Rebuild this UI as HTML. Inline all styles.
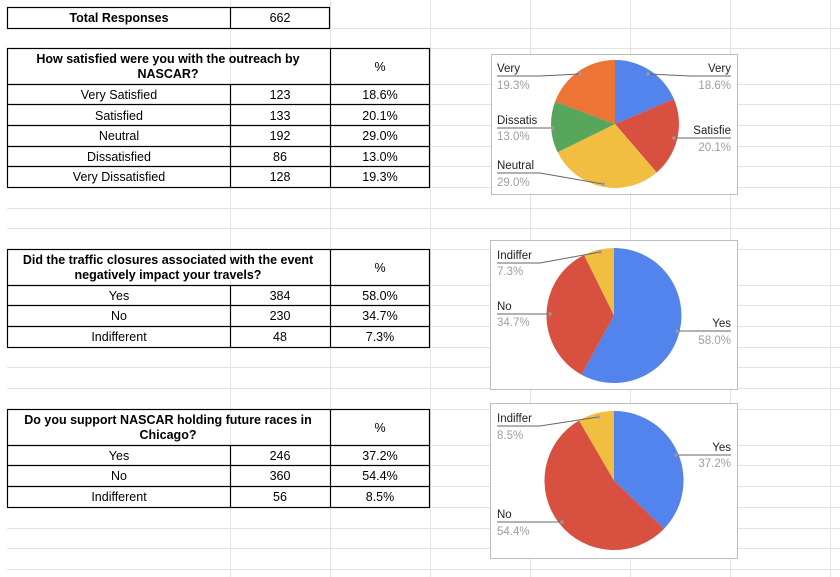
<!DOCTYPE html>
<html><head><meta charset="utf-8"><style>
html,body{margin:0;padding:0;background:#fff;}
svg{display:block;font-family:"Liberation Sans",Arial,sans-serif;}
.t{font-size:12.5px;fill:#000;}
.b{font-weight:bold;}
.lb{font-size:11.5px;fill:#222;}
.pc{font-size:11.5px;fill:#9e9e9e;}
.ln{stroke:#666;stroke-width:1;fill:none;}
.dot{fill:#999;}
</style></head><body>
<svg width="840" height="577" viewBox="0 0 840 577" xmlns="http://www.w3.org/2000/svg">
<g stroke="#e2e2e2" stroke-width="1">
<line x1="230.5" y1="0" x2="230.5" y2="577"/><line x1="330.5" y1="0" x2="330.5" y2="577"/>
<line x1="430.5" y1="0" x2="430.5" y2="577"/><line x1="530.5" y1="0" x2="530.5" y2="577"/>
<line x1="630.5" y1="0" x2="630.5" y2="577"/><line x1="730.5" y1="0" x2="730.5" y2="577"/>
<line x1="830.5" y1="0" x2="830.5" y2="577"/>
<line x1="0" y1="28.5" x2="840" y2="28.5"/><line x1="0" y1="48.5" x2="840" y2="48.5"/>
<line x1="0" y1="84.5" x2="840" y2="84.5"/><line x1="0" y1="104.5" x2="840" y2="104.5"/>
<line x1="0" y1="125.5" x2="840" y2="125.5"/><line x1="0" y1="146.5" x2="840" y2="146.5"/>
<line x1="0" y1="166.5" x2="840" y2="166.5"/><line x1="0" y1="187.5" x2="840" y2="187.5"/>
<line x1="0" y1="208.5" x2="840" y2="208.5"/><line x1="0" y1="228.5" x2="840" y2="228.5"/>
<line x1="0" y1="249.5" x2="840" y2="249.5"/><line x1="0" y1="285.5" x2="840" y2="285.5"/>
<line x1="0" y1="305.5" x2="840" y2="305.5"/><line x1="0" y1="326.5" x2="840" y2="326.5"/>
<line x1="0" y1="347.5" x2="840" y2="347.5"/><line x1="0" y1="367.5" x2="840" y2="367.5"/>
<line x1="0" y1="388.5" x2="840" y2="388.5"/><line x1="0" y1="409.5" x2="840" y2="409.5"/>
<line x1="0" y1="445.5" x2="840" y2="445.5"/><line x1="0" y1="465.5" x2="840" y2="465.5"/>
<line x1="0" y1="486.5" x2="840" y2="486.5"/><line x1="0" y1="507.5" x2="840" y2="507.5"/>
<line x1="0" y1="528.5" x2="840" y2="528.5"/><line x1="0" y1="548.5" x2="840" y2="548.5"/>
<line x1="0" y1="569.5" x2="840" y2="569.5"/>
</g>
<rect x="0" y="0" width="7" height="577" fill="#fff"/>
<g stroke="#000" stroke-width="1.2" fill="none">
<rect x="7.5" y="7.5" width="322" height="21"/><line x1="230.5" y1="7.5" x2="230.5" y2="28.5"/>
<rect x="7.5" y="48.5" width="422" height="139"/>
<line x1="330.5" y1="48.5" x2="330.5" y2="187.5"/><line x1="230.5" y1="84.5" x2="230.5" y2="187.5"/>
<line x1="7.5" y1="84.5" x2="429.5" y2="84.5"/><line x1="7.5" y1="104.5" x2="429.5" y2="104.5"/>
<line x1="7.5" y1="125.5" x2="429.5" y2="125.5"/><line x1="7.5" y1="146.5" x2="429.5" y2="146.5"/>
<line x1="7.5" y1="166.5" x2="429.5" y2="166.5"/>
<rect x="7.5" y="249.5" width="422" height="98"/>
<line x1="330.5" y1="249.5" x2="330.5" y2="347.5"/><line x1="230.5" y1="285.5" x2="230.5" y2="347.5"/>
<line x1="7.5" y1="285.5" x2="429.5" y2="285.5"/><line x1="7.5" y1="305.5" x2="429.5" y2="305.5"/>
<line x1="7.5" y1="326.5" x2="429.5" y2="326.5"/>
<rect x="7.5" y="409.5" width="422" height="98"/>
<line x1="330.5" y1="409.5" x2="330.5" y2="507.5"/><line x1="230.5" y1="445.5" x2="230.5" y2="507.5"/>
<line x1="7.5" y1="445.5" x2="429.5" y2="445.5"/><line x1="7.5" y1="465.5" x2="429.5" y2="465.5"/>
<line x1="7.5" y1="486.5" x2="429.5" y2="486.5"/>
</g>
<g class="t" text-anchor="middle">
<text x="119" y="22" class="b">Total Responses</text><text x="280" y="22">662</text>
<text x="168" y="63" class="b">How satisfied were you with the outreach by</text>
<text x="168" y="78" class="b">NASCAR?</text><text x="380" y="71">%</text>
<text x="119" y="99">Very Satisfied</text><text x="280" y="99">123</text><text x="380" y="99">18.6%</text>
<text x="119" y="120">Satisfied</text><text x="280" y="120">133</text><text x="380" y="120">20.1%</text>
<text x="119" y="140">Neutral</text><text x="280" y="140">192</text><text x="380" y="140">29.0%</text>
<text x="119" y="161">Dissatisfied</text><text x="280" y="161">86</text><text x="380" y="161">13.0%</text>
<text x="119" y="181">Very Dissatisfied</text><text x="280" y="181">128</text><text x="380" y="181">19.3%</text>
<text x="168" y="264" class="b">Did the traffic closures associated with the event</text>
<text x="168" y="279" class="b">negatively impact your travels?</text><text x="380" y="272">%</text>
<text x="119" y="300">Yes</text><text x="280" y="300">384</text><text x="380" y="300">58.0%</text>
<text x="119" y="320">No</text><text x="280" y="320">230</text><text x="380" y="320">34.7%</text>
<text x="119" y="341">Indifferent</text><text x="280" y="341">48</text><text x="380" y="341">7.3%</text>
<text x="168" y="424" class="b">Do you support NASCAR holding future races in</text>
<text x="168" y="439" class="b">Chicago?</text><text x="380" y="432">%</text>
<text x="119" y="460">Yes</text><text x="280" y="460">246</text><text x="380" y="460">37.2%</text>
<text x="119" y="480">No</text><text x="280" y="480">360</text><text x="380" y="480">54.4%</text>
<text x="119" y="501">Indifferent</text><text x="280" y="501">56</text><text x="380" y="501">8.5%</text>
</g>
<rect x="491.5" y="54.5" width="246" height="140" fill="#fff" stroke="#bdbdbd"/>
<path d="M615,124 L615,60 A64,64 0 0 1 673.9,99 Z" fill="#5383EC"/>
<path d="M615,124 L673.9,99 A64,64 0 0 1 656.7,172.5 Z" fill="#D85140"/>
<path d="M615,124 L656.7,172.5 A64,64 0 0 1 557.6,152.3 Z" fill="#F1BE42"/>
<path d="M615,124 L557.6,152.3 A64,64 0 0 1 555.1,101.6 Z" fill="#58A65C"/>
<path d="M615,124 L555.1,101.6 A64,64 0 0 1 615,60 Z" fill="#EC7434"/>
<g class="ln"><path d="M497,76 L540,76 L580,74"/><path d="M731,76 L690,76 L648,74"/>
<path d="M497,128 L553,128"/><path d="M731,138 L674,138"/><path d="M497,173 L540,173 L603,184"/></g>
<g class="dot"><circle cx="580" cy="74" r="1.8"/><circle cx="648" cy="74" r="1.8"/><circle cx="553" cy="128" r="1.8"/><circle cx="674" cy="138" r="1.8"/><circle cx="603" cy="184" r="1.8"/></g>
<text class="lb" x="497" y="72">Very</text><text class="pc" x="497" y="89">19.3%</text>
<text class="lb" x="731" y="72" text-anchor="end">Very</text><text class="pc" x="731" y="89" text-anchor="end">18.6%</text>
<text class="lb" x="497" y="124">Dissatis</text><text class="pc" x="497" y="140">13.0%</text>
<text class="lb" x="731" y="134" text-anchor="end">Satisfie</text><text class="pc" x="731" y="151" text-anchor="end">20.1%</text>
<text class="lb" x="497" y="169">Neutral</text><text class="pc" x="497" y="186">29.0%</text>
<rect x="490.5" y="240.5" width="247" height="149" fill="#fff" stroke="#bdbdbd"/>
<path d="M614,315.5 L614,248 A67.5,67.5 0 1 1 581.5,374.7 Z" fill="#5383EC"/>
<path d="M614,315.5 L581.5,374.7 A67.5,67.5 0 0 1 584.1,255 Z" fill="#D85140"/>
<path d="M614,315.5 L584.1,255 A67.5,67.5 0 0 1 614,248 Z" fill="#F1BE42"/>
<g class="ln"><path d="M497,263 L540,263 L600,252"/><path d="M497,314 L550,314"/><path d="M731,331 L677,331"/></g>
<g class="dot"><circle cx="600" cy="252" r="1.8"/><circle cx="550" cy="314" r="1.8"/><circle cx="677" cy="331" r="1.8"/></g>
<text class="lb" x="497" y="259">Indiffer</text><text class="pc" x="497" y="275">7.3%</text>
<text class="lb" x="497" y="310">No</text><text class="pc" x="497" y="326">34.7%</text>
<text class="lb" x="731" y="327" text-anchor="end">Yes</text><text class="pc" x="731" y="344" text-anchor="end">58.0%</text>
<rect x="490.5" y="403.5" width="247" height="155" fill="#fff" stroke="#bdbdbd"/>
<path d="M614,480.5 L614,411 A69.5,69.5 0 0 1 664.1,528.7 Z" fill="#5383EC"/>
<path d="M614,480.5 L664.1,528.7 A69.5,69.5 0 1 1 579,420.5 Z" fill="#D85140"/>
<path d="M614,480.5 L579,420.5 A69.5,69.5 0 0 1 614,411 Z" fill="#F1BE42"/>
<g class="ln"><path d="M497,426 L540,426 L598,417"/><path d="M731,455 L676,455"/><path d="M497,522 L562,522"/></g>
<g class="dot"><circle cx="598" cy="417" r="1.8"/><circle cx="676" cy="455" r="1.8"/><circle cx="562" cy="522" r="1.8"/></g>
<text class="lb" x="497" y="422">Indiffer</text><text class="pc" x="497" y="439">8.5%</text>
<text class="lb" x="731" y="451" text-anchor="end">Yes</text><text class="pc" x="731" y="467" text-anchor="end">37.2%</text>
<text class="lb" x="497" y="518">No</text><text class="pc" x="497" y="535">54.4%</text>
</svg>
</body></html>
